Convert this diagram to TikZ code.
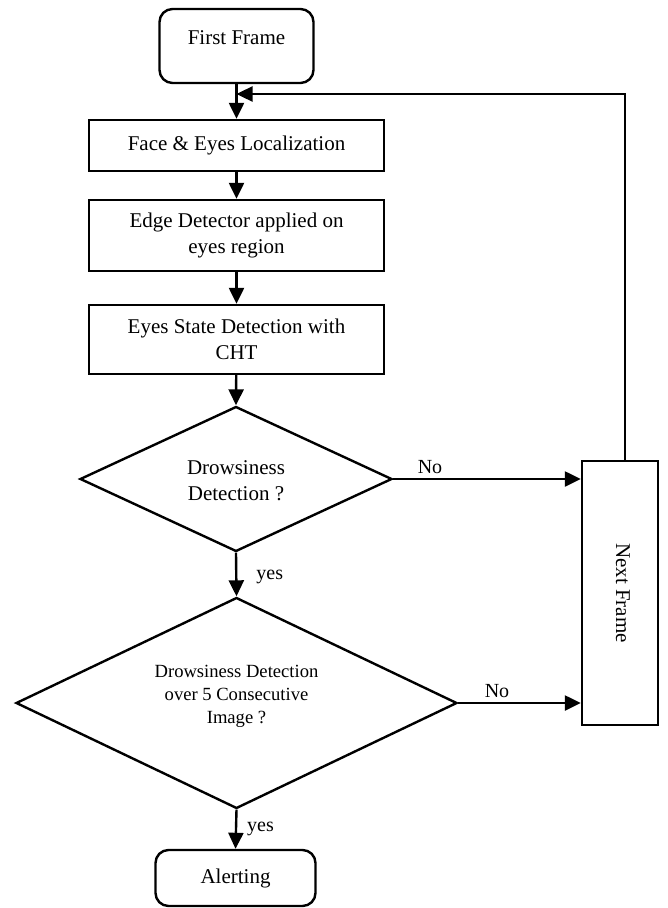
\documentclass[tikz,border=0pt]{standalone}
\usepackage{fontspec}
\setmainfont{Liberation Serif}
\usetikzlibrary{shapes.geometric,arrows.meta}
\begin{document}
\begin{tikzpicture}[x=1pt,y=-1pt,
  every node/.style={font=\fontsize{21}{26}\selectfont, inner sep=0pt, align=center},
  box/.style={draw, line width=2.4pt, rectangle},
  rbox/.style={box, rounded corners=13pt},
  dia/.style={draw, line width=2.4pt, diamond, aspect=2.1},
  arr/.style={line width=2.4pt, -{Triangle[length=16pt,width=15pt]}},
  lbl/.style={font=\fontsize{20}{24}\selectfont}]
\useasboundingbox (0,0) rectangle (667,908);
% nodes
\node[rbox, minimum width=154pt, minimum height=74pt] (ff) at (236.5,46) {};
\node (fft) at (236.5,38) {First Frame};
\node[box, minimum width=295pt, minimum height=51pt] (fel) at (236.5,145.5) {Face \& Eyes Localization};
\node[box, minimum width=295pt, minimum height=71pt] (edge) at (236.5,235.5) {Edge Detector applied on\\eyes region};
\node[box, minimum width=295pt, minimum height=69pt] (eyes) at (236.5,339.5) {Eyes State Detection with\\CHT};
\node[dia, minimum width=312pt, minimum height=145pt] (d1) at (236,479) {};
\node (d1t) at (236,480.5) {Drowsiness\\Detection ?};
\node[dia, minimum width=441pt, minimum height=211pt] (d2) at (236.5,703) {};
\node[font=\fontsize{18.6}{23}\selectfont] (d2t) at (236.5,696) {Drowsiness Detection\\over 5 Consecutive\\Image ?};
\node[rbox, minimum width=160pt, minimum height=56pt] (al) at (235.5,878) {Alerting};
\node[box, minimum width=76pt, minimum height=264pt] (nf) at (620,593) {};
\node[rotate=-90] (nft) at (623,593) {Next Frame};
\coordinate (join) at (236.5,94);
% connectors
\draw[arr] (ff) -- (fel);
\draw[arr] (fel) -- (edge);
\draw[arr] (edge) -- (eyes);
\draw[arr] (eyes) -- (d1.north);
\draw[arr] (d1.south) -- node[lbl, right=19pt, pos=0.56] (y1) {yes} (d2.north);
\draw[arr] (d2.south) -- node[lbl, right=10pt, pos=0.5] (y2) {yes} (al.north);
\draw[arr] (d1.east) -- (d1.east -| nf.west);
\node[lbl] (n1) at (430,467) {No};
\draw[arr] (d2.east) -- (d2.east -| nf.west);
\node[lbl] (n2) at (497,691) {No};
\draw[arr] ([xshift=5pt]nf.north) |- (join);
\end{tikzpicture}
\end{document}
